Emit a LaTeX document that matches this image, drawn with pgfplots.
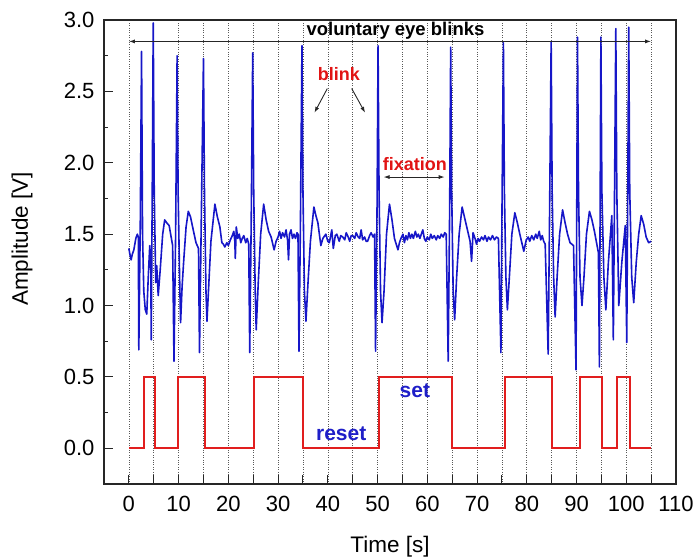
\documentclass[border=0pt]{standalone}
\usepackage{pgfplots}
\pgfplotsset{compat=1.18}
\usepackage{fontspec}
\setmainfont{Liberation Sans}
\usetikzlibrary{arrows.meta}
\definecolor{sigblue}{RGB}{22,22,200}
\definecolor{sigred}{RGB}{225,30,30}
\definecolor{txtred}{RGB}{225,20,20}
\definecolor{txtblue}{RGB}{30,30,200}
\begin{document}
\begin{tikzpicture}
\begin{axis}[
  scale only axis, width=572pt, height=464pt,
  xmin=-5, xmax=110, ymin=-0.25, ymax=3.0,
  axis line style={line width=1.2pt, black!85},
  tick pos=left, tick align=inside,
  xtick={0,5,...,110},
  xticklabels={0,,10,,20,,30,,40,,50,,60,,70,,80,,90,,100,,110},
  ytick={0,0.5,...,3.0},
  minor y tick num=1,
  major tick length=9pt, minor tick length=4.5pt,
  every tick/.style={line width=1pt, black!85},
  xmajorgrids, major x grid style={dotted, line width=0.6pt, black!65},
  /pgf/number format/assume math mode=true,
  ticklabel style={font=\fontsize{22}{26}\selectfont},
  xticklabel style={yshift=-8.5pt},
  yticklabel style={xshift=-6pt, /pgf/number format/.cd, fixed, fixed zerofill, precision=1},
  xlabel={Time [s]}, ylabel={Amplitude [V]},
  every axis x label/.style={at={(rel axis cs:0.5,0)}, yshift=-68pt, anchor=base, font=\fontsize{22.5}{26}\selectfont},
  every axis y label/.style={at={(rel axis cs:0,0.528)}, xshift=-76pt, rotate=90, anchor=base, font=\fontsize{22.5}{26}\selectfont},
  clip=false,
]
\addplot[sigblue, line width=1.6pt, line join=round] coordinates {
(0.0,1.40) (0.2,1.36) (0.45,1.32) (0.7,1.36) (1.0,1.39) (1.4,1.47) (1.7,1.50) (1.9,1.48)
(2.0,0.69) (2.3,1.6) (2.55,2.78) (2.75,1.5) (3.0,1.1) (3.3,0.97) (3.6,0.94) (3.9,1.2)
(4.2,1.42) (4.4,1.3) (4.5,0.76) (4.7,1.8) (4.9,2.98) (5.1,1.8) (5.4,1.16) (5.6,1.28)
(5.9,1.07) (6.3,1.25) (6.8,1.5) (7.2,1.60) (7.6,1.58) (8.1,1.56) (8.5,1.48) (8.8,1.42)
(9.07,0.61) (9.4,1.5) (9.7,2.75) (9.9,1.8) (10.2,1.2) (10.4,0.88) (10.7,1.13) (11.0,1.3)
(11.5,1.55) (11.95,1.66) (12.4,1.62) (13.0,1.52) (13.5,1.44) (14.0,1.40) (14.2,0.67) (14.6,1.7)
(15.0,2.73) (15.2,1.8) (15.5,1.1) (15.7,0.89) (16.0,1.1) (16.5,1.45) (17.3,1.71) (17.8,1.62)
(18.3,1.55) (18.7,1.44) (19.0,1.43) (19.3,1.41) (19.7,1.44) (20.0,1.42) (20.4,1.46) (20.8,1.49)
(21.1,1.52) (21.3,1.45) (21.4,1.33) (21.6,1.55) (21.9,1.47) (22.2,1.50) (22.5,1.44) (22.8,1.47)
(23.1,1.49) (23.5,1.44) (23.8,1.47) (24.1,1.43) (24.3,0.67) (24.6,1.6)
(24.9,2.77) (25.1,1.8) (25.4,1.1) (25.6,0.83) (26.0,1.15) (26.5,1.5) (27.1,1.71) (27.6,1.60)
(28.1,1.52) (28.6,1.48) (29.2,1.39) (29.6,1.45) (30.0,1.48) (30.3,1.52) (30.6,1.47) (30.9,1.51)
(31.3,1.48) (31.6,1.53) (31.9,1.46) (32.1,1.32) (32.3,1.50) (32.6,1.53) (32.9,1.47) (33.2,1.50)
(33.5,1.47) (33.8,1.51) (34.0,1.50) (34.2,0.68) (34.5,1.6) (34.8,2.82) (35.0,1.8)
(35.3,1.1) (35.6,0.89) (36.0,1.15) (36.5,1.45) (37.2,1.69) (37.6,1.63) (38.0,1.58) (38.6,1.42)
(39.0,1.47) (39.6,1.50) (40.0,1.45) (40.3,1.44) (40.8,1.53) (41.1,1.40) (41.5,1.49) (41.8,1.50)
(42.3,1.45) (42.6,1.49) (43.0,1.48) (43.4,1.46) (43.7,1.51) (44.1,1.48) (44.4,1.45) (44.7,1.49)
(45.0,1.49) (45.4,1.47) (45.7,1.51) (46.1,1.48) (46.4,1.47) (46.7,1.53) (47.0,1.46) (47.4,1.48)
(47.7,1.45) (48.0,1.45) (48.4,1.49) (48.7,1.51) (49.1,1.48) (49.4,1.50) (49.6,0.68) (49.9,1.7)
(50.1,2.82) (50.3,1.8) (50.6,1.1)
(50.9,0.88) (51.3,1.1) (51.8,1.5) (52.4,1.71) (52.9,1.60) (53.4,1.47) (54.1,1.39) (54.4,1.44)
(54.7,1.47) (55.1,1.50) (55.4,1.44) (55.7,1.49) (56.0,1.46) (56.3,1.51) (56.6,1.47) (56.9,1.50)
(57.2,1.47) (57.6,1.52) (57.9,1.48) (58.2,1.50) (58.5,1.47) (58.8,1.50) (59.1,1.53) (59.4,1.47)
(59.7,1.45) (60.0,1.48) (60.4,1.46) (60.7,1.50) (61.0,1.47) (61.4,1.49) (61.8,1.46) (62.1,1.49)
(62.5,1.47) (62.8,1.50) (63.2,1.48) (63.5,1.51) (63.8,1.50) (64.2,0.61)
(64.5,1.7) (64.7,2.81) (64.9,1.8) (65.2,1.1) (65.5,0.90) (65.9,1.2) (66.4,1.5) (67.0,1.69)
(67.6,1.60) (68.2,1.51) (68.6,1.45) (68.9,1.31) (69.2,1.51) (69.6,1.47) (69.9,1.43) (70.2,1.47)
(70.5,1.45) (70.9,1.48) (71.3,1.46) (71.6,1.49) (72.0,1.45) (72.3,1.48) (72.7,1.46) (73.1,1.49)
(73.5,1.46) (73.9,1.48) (74.3,1.47) (74.8,0.67) (75.0,1.6) (75.3,2.84) (75.5,1.8)
(75.8,1.2) (76.1,0.97) (76.5,1.2) (77.0,1.5) (77.6,1.65) (78.1,1.58) (78.6,1.50) (79.4,1.38)
(79.9,1.46) (80.3,1.48) (80.6,1.45) (81.0,1.49) (81.4,1.46) (81.8,1.50) (82.1,1.47) (82.5,1.52)
(82.8,1.46) (83.1,1.49) (83.4,1.45) (83.7,1.43) (84.3,0.66) (84.6,1.7)
(84.9,2.85) (85.1,1.8) (85.4,1.2) (85.7,0.92) (86.1,1.2) (86.6,1.5) (87.2,1.67) (87.7,1.58)
(88.2,1.50) (88.7,1.44) (89.4,1.42) (89.9,0.55) (90.05,1.7) (90.2,2.88) (90.4,1.8) (90.7,1.2)
(91.1,1.00) (91.5,1.2) (92.0,1.5) (92.6,1.66) (93.1,1.60) (93.6,1.52) (94.4,1.37) (94.6,0.57)
(94.75,1.7) (94.9,2.88) (95.1,1.8) (95.5,1.2) (95.9,0.97) (96.4,1.3) (97.1,1.63) (97.4,0.76)
(97.6,1.6) (97.9,2.94) (98.1,1.8) (98.5,1.00) (99.1,1.3) (99.8,1.56) (100.1,0.74) (100.3,1.8)
(100.5,2.95) (100.7,1.8) (101.1,1.2) (101.5,1.02) (102.0,1.3) (102.5,1.5) (103.0,1.63) (103.5,1.57)
(104.0,1.48) (104.5,1.44) (105.0,1.45)
};
\addplot[sigred, line width=2pt] coordinates {
(0,0) (3,0) (3,0.5) (5.2,0.5) (5.2,0) (9.9,0) (9.9,0.5) (15.3,0.5) (15.3,0)
(25.1,0) (25.1,0.5) (35.1,0.5) (35.1,0) (50.3,0) (50.3,0.5) (65,0.5) (65,0)
(75.7,0) (75.7,0.5) (85.1,0.5) (85.1,0) (90.7,0) (90.7,0.5) (95.2,0.5) (95.2,0)
(98.1,0) (98.1,0.5) (100.8,0.5) (100.8,0) (105,0)
};
\node[font=\fontsize{18.5}{22}\selectfont\bfseries] at (axis cs:53.6,2.925) {voluntary eye blinks};
\draw[{Latex[length=6pt,width=4pt]}-{Latex[length=6pt,width=4pt]}, line width=1pt, black!85] (axis cs:0,2.85) -- (axis cs:105,2.85);
\node[font=\fontsize{18}{22}\selectfont\bfseries, text=txtred] at (axis cs:42.2,2.62) {blink};
\draw[-{Latex[length=6pt,width=4pt]}, line width=0.9pt, black!85] (axis cs:39.9,2.52) -- (axis cs:37.3,2.35);
\draw[-{Latex[length=6pt,width=4pt]}, line width=0.9pt, black!85] (axis cs:44.8,2.52) -- (axis cs:47.5,2.35);
\node[font=\fontsize{18}{22}\selectfont\bfseries, text=txtred] at (axis cs:57.5,1.99) {fixation};
\draw[{Latex[length=6pt,width=4pt]}-{Latex[length=6pt,width=4pt]}, line width=0.9pt, black!85] (axis cs:51.2,1.90) -- (axis cs:63.5,1.90);
\node[font=\fontsize{21}{25}\selectfont\bfseries, text=txtblue] at (axis cs:57.5,0.40) {set};
\node[font=\fontsize{21}{25}\selectfont\bfseries, text=txtblue] at (axis cs:42.7,0.10) {reset};
\end{axis}
\pgfresetboundingbox
\path (current axis.south west) ++(-104pt,-73pt) rectangle ++(697pt,557pt);
\end{tikzpicture}
\end{document}
